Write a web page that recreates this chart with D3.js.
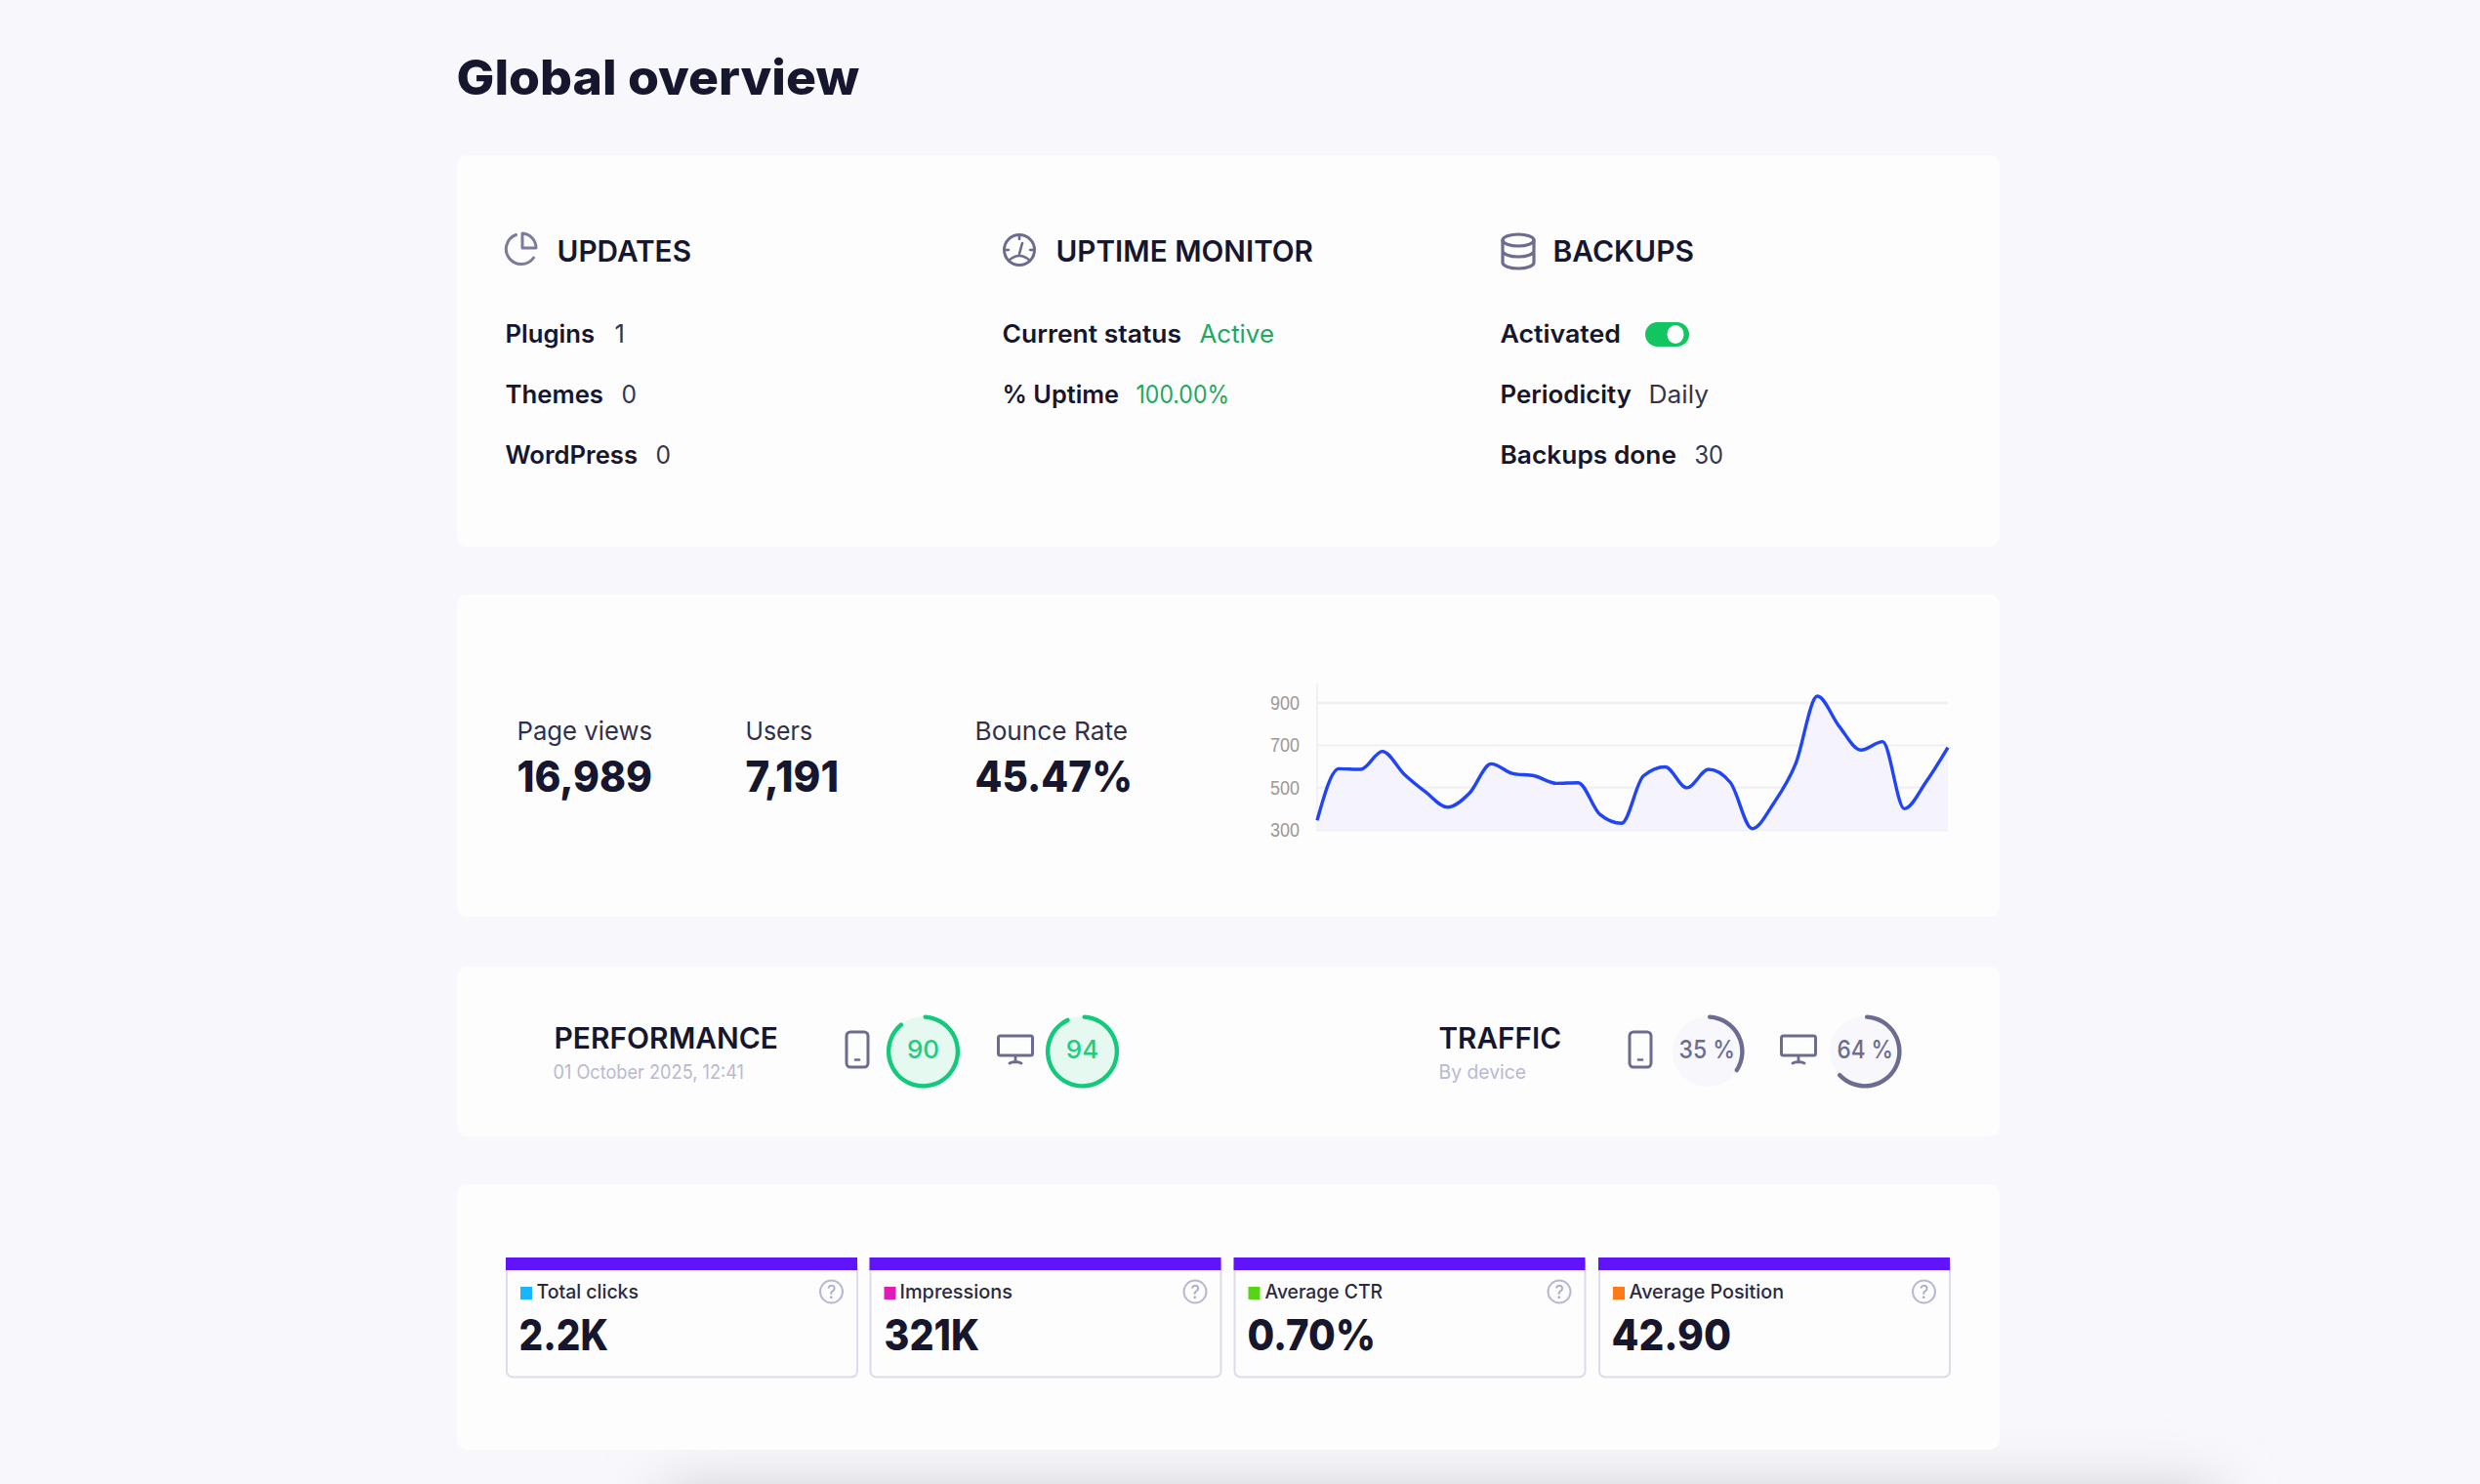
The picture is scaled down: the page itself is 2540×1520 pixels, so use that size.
<!DOCTYPE html>
<html><head><meta charset="utf-8">
<script src="https://cdn.jsdelivr.net/npm/d3@7"></script>
<style>html,body{margin:0;padding:0;background:#f8f8fc;overflow:hidden}svg{display:block}text{font-family:Inter,"Noto Sans",sans-serif}</style>
</head><body><svg id="c" width="2540" height="1520" viewBox="0 0 2540 1520"></svg>
<script>
// ---- data ----
const pageTitle = "Global overview";
const sectionTitles = ["UPDATES", "UPTIME MONITOR", "BACKUPS"];
const updateLabels = ["Plugins", "Themes", "WordPress"];
const updateValues = ["1", "0", "0"];
const uptimeLabels = ["Current status", "% Uptime"];
const uptimeValues = ["Active", "100.00%"];
const backupLabels = ["Activated", "Periodicity", "Backups done"];
const backupValues = ["", "Daily", "30"];
const kpiLabels = ["Page views", "Users", "Bounce Rate"];
const kpiValues = ["16,989", "7,191", "45.47%"];
const dailyViews = [345,589,586,671,563,478,407,473,612,566,555,520,523,373,331,555,598,499,586,524,306,427,612,932,790,677,717,400,527,689];
const yTicks = [300,500,700,900];
const perfScores = [90,94];
const trafficShares = [35,64];
const metricLabels = ["Total clicks","Impressions","Average CTR","Average Position"];
const metricValues = ["2.2K","321K","0.70%","42.90"];
const metricColors = ["#1ab5ff","#e11bb5","#57d414","#ff7a14"];

// ---- helpers ----
const ink="#16162e", slate="#6c6c90", pale="#b9b9d2", green="#22a85f", ring="#12c97c";
const svg=d3.select("#c");
const defs=svg.append("defs");
defs.append("filter").attr("id","soft").attr("x","-20%").attr("y","-150%").attr("width","140%").attr("height","400%")
  .append("feGaussianBlur").attr("stdDeviation",30);
const label=(s,x,x2,y,size,w,fill,anchor)=>{
  const lx=anchor?x:x-1.5;
  const t=svg.append("text").attr("x",lx).attr("y",y).attr("font-size",size).attr("font-weight",w).attr("fill",fill).text(s);
  if(anchor)t.attr("text-anchor",anchor);
  if(x2!=null)t.attr("textLength",x2-lx).attr("lengthAdjust","spacingAndGlyphs");
  return t;
};
const line2=(g,d,sw=3.2,c=slate)=>g.append("path").attr("d",d).attr("fill","none").attr("stroke",c).attr("stroke-width",sw).attr("stroke-linecap","round").attr("stroke-linejoin","round");

// ---- page ----
svg.append("rect").attr("width",2540).attr("height",1520).attr("fill","#f8f8fc");
svg.append("rect").attr("x",680).attr("y",1525).attr("width",1590).attr("height",80).attr("fill","#c9c9d2").attr("filter","url(#soft)");
[[159,560],[609,939],[990,1164],[1213,1485]].forEach(([a,b])=>{
  svg.append("rect").attr("x",468).attr("y",a).attr("width",1580).attr("height",b-a).attr("rx",10).attr("fill","#fdfdfe");
});
label(pageTitle,469,880,97,50,800,ink);

// ---- section 1 ----
const headX=[[571,708],[1082,1345],[1591,1735]];
sectionTitles.forEach((s,i)=>label(s,headX[i][0]+1,headX[i][1],268,30,600,ink));
// pie icon
{const g=svg.append("g").attr("transform","translate(533,256)");
 line2(g,"M-4.5,-15.5 A15.5,15.5 0 1 0 13.5,8",3,"#7b7b9c");
 line2(g,"M2,-17 A15,15 0 0 1 16,-2 L2,-2 Z",3,"#7b7b9c");}
// gauge icon
{const g=svg.append("g").attr("transform","translate(1044,256)");
 g.append("circle").attr("r",15.5).attr("fill","none").attr("stroke",slate).attr("stroke-width",3);
 line2(g,"M0,-15V-11M-15,0H-11M15,0H11",2.6);
 line2(g,"M3,-7L0,4",2.6);
 line2(g,"M-11,11Q0,1 11,11",2.6);}
// database icon
{const g=svg.append("g").attr("transform","translate(1555,257)");
 g.append("ellipse").attr("cy",-11).attr("rx",16).attr("ry",6).attr("fill","none").attr("stroke",slate).attr("stroke-width",3.2);
 line2(g,"M-16,-11V12A16,6 0 0 0 16,12V-11M-16,0A16,6 0 0 0 16,0");}
const rowY=[351,413,475];
[[519,609,631,null],[519,618,638,652],[519,653,673,687]].forEach((p,i)=>{
  label(updateLabels[i],p[0],p[1],rowY[i],25.5,600,ink);
  label(updateValues[i],p[2],p[3],rowY[i],25.5,400,"#34344c");
});
[[1028,1210,1230,1305],[1028,1146,1165,1259]].forEach((p,i)=>{
  label(uptimeLabels[i],p[0],p[1],rowY[i],25.5,600,ink);
  label(uptimeValues[i],p[2],p[3],rowY[i],25.5,400,green);
});
[[1538,1660],[1538,1671,1690,1750],[1538,1717,1737,1765]].forEach((p,i)=>{
  label(backupLabels[i],p[0],p[1],rowY[i],25.5,600,ink);
  if(backupValues[i])label(backupValues[i],p[2],p[3],rowY[i],25.5,400,"#34344c");
});
svg.append("rect").attr("x",1685).attr("y",330).attr("width",45).attr("height",25).attr("rx",12.5).attr("fill","#11c560");
svg.append("ellipse").attr("cx",1716).attr("cy",342.5).attr("rx",8.5).attr("ry",9.5).attr("fill","#fdfdfe");

// ---- section 2 ----
const kpiX=[[531,668,531,668],[765,832,765,859],[1000,1155,1000,1160]];
kpiLabels.forEach((s,i)=>{
  label(s,kpiX[i][0],kpiX[i][1],758,26,400,"#30304a");
  label(kpiValues[i],kpiX[i][2],kpiX[i][3],811,44,800,ink);
});
const x=d3.scaleLinear().domain([0,dailyViews.length-1]).range([1349,1995]);
const y=d3.scaleLinear().domain([300,900]).range([850,720]);
const curve=d3.curveMonotoneX;
const chart=svg.append("g");
chart.append("line").attr("x1",x(0)).attr("x2",x(0)).attr("y1",700).attr("y2",851).attr("stroke","#ededf1").attr("stroke-width",1.5);
chart.append("g").selectAll("line").data(yTicks).join("line")
  .attr("x1",x(0)).attr("x2",x(dailyViews.length-1)).attr("y1",d=>y(d)).attr("y2",d=>y(d)).attr("stroke","#f0f0f4").attr("stroke-width",2.4);
chart.append("path").datum(dailyViews).attr("fill","#f4f3fd").attr("opacity",.92)
  .attr("d",d3.area().x((d,i)=>x(i)).y0(y(300)).y1(d=>y(d)).curve(curve));
chart.append("path").datum(dailyViews).attr("fill","none").attr("stroke","#2144f5").attr("stroke-width",3.4)
  .attr("d",d3.line().x((d,i)=>x(i)).y(d=>y(d)).curve(curve));
const axis=chart.append("g").attr("transform","translate(1339,0)")
  .call(d3.axisLeft(y).tickValues(yTicks).tickSize(0).tickPadding(8));
axis.select(".domain").remove();
axis.selectAll("text").attr("fill","#9a9a9a").attr("font-size",20).style("font-family","Liberation Sans,Arial,sans-serif")
  .attr("textLength",30).attr("lengthAdjust","spacingAndGlyphs");

// ---- section 3 ----
label("PERFORMANCE",569,797,1074,30,600,ink);
label("01 October 2025, 12:41",568,762,1105,20,400,pale);
label("TRAFFIC",1475,1599,1074,30,600,ink);
label("By device",1475,1563,1105,20,400,pale);
const phone=cx=>{const g=svg.append("g").attr("transform",`translate(${cx},1075)`);
  g.append("rect").attr("x",-11).attr("y",-18).attr("width",22).attr("height",36).attr("rx",4).attr("fill","none").attr("stroke",slate).attr("stroke-width",3);
  line2(g,"M-2,10.5H2",2.6);};
const monitor=cx=>{const g=svg.append("g").attr("transform",`translate(${cx},1075)`);
  g.append("rect").attr("x",-17.5).attr("y",-14).attr("width",35).attr("height",20).attr("rx",2).attr("fill","none").attr("stroke",slate).attr("stroke-width",3);
  line2(g,"M0,7V13M-6,14Q0,11 6,14",2.8);};
phone(878);monitor(1040);phone(1680);monitor(1842);
const arc=d3.arc().innerRadius(33.2).outerRadius(37.6).cornerRadius(2);
const gauge=(cx,v,bg,col,txtCol,str,x1,x2)=>{
  const g=svg.append("g").attr("transform",`translate(${cx},1077)`);
  g.append("circle").attr("r",36).attr("fill",bg);
  g.append("path").attr("fill",col).attr("d",arc({startAngle:0,endAngle:2*Math.PI*v/100}));
  if(x1!=null)label(str,x1,x2,1084,26,500,txtCol);
  else label(str,cx,null,1084,26,500,txtCol,"middle");
};
gauge(945.5,perfScores[0],"#e6f9f1",ring,"#1ccf80",String(perfScores[0]));
gauge(1108.5,perfScores[1],"#e6f9f1",ring,"#1ccf80",String(perfScores[1]));
gauge(1749,trafficShares[0],"#f7f7fc",slate,slate,trafficShares[0]+" %",1721,1777);
gauge(1910,trafficShares[1],"#f7f7fc",slate,slate,trafficShares[1]+" %",1883,1939);

// ---- section 4 ----
const boxX=[519,891.5,1264.5,1638];
const labelX=[[551,654],[923,1037],[1297,1416],[1670,1827]];
const valueX=[[533,623],[907,1003],[1279,1409],[1652,1773]];
metricLabels.forEach((s,i)=>{
  const bx=boxX[i];
  svg.append("rect").attr("x",bx).attr("y",1289).attr("width",359).attr("height",121.5).attr("rx",6).attr("fill","#fdfdfe").attr("stroke","#dcdcea").attr("stroke-width",2);
  svg.append("rect").attr("x",bx-1).attr("y",1288).attr("width",360).attr("height",13).attr("fill","#5f14fa");
  svg.append("rect").attr("x",bx+14).attr("y",1318).attr("width",12).attr("height",13).attr("fill",metricColors[i]);
  label(s,labelX[i][0],labelX[i][1],1330,20,500,"#2a2a42");
  svg.append("circle").attr("cx",bx+332.5).attr("cy",1323).attr("r",11.5).attr("fill","none").attr("stroke","#b8b8d2").attr("stroke-width",2);
  label("?",bx+332.5,null,1330,18,400,"#a5a5c4","middle");
  label(metricValues[i],valueX[i][0],valueX[i][1],1383,44,800,ink);
});
</script></body></html>
